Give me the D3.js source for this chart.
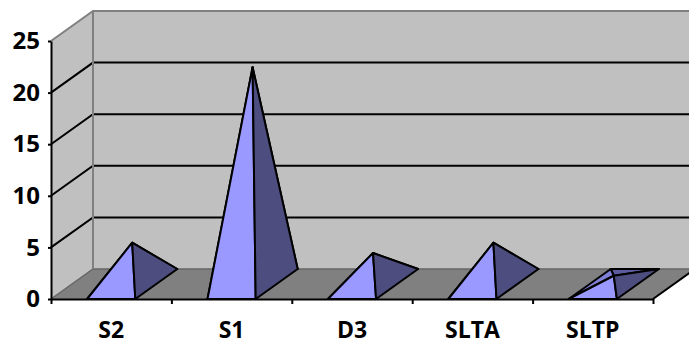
<!DOCTYPE html>
<html>
<head>
<meta charset="utf-8">
<script src="https://cdn.jsdelivr.net/npm/d3@7"></script>
<style>
  html, body { margin: 0; padding: 0; background: #fff; overflow: hidden; }
  svg { display: block; }
  .axis text { font-family: "Open Sans", "Noto Sans", sans-serif; font-weight: bold; fill: #000; }
</style>
</head>
<body>
<div id="chart"></div>
<script>
const categories = ["S2", "S1", "D3", "SLTA", "SLTP"];
const values = [4, 21, 3, 4, 0.8];
const yTicks = [0, 5, 10, 15, 20, 25];
const gridTicks = [5, 10, 15, 20];

const width = 689, height = 345;
const left = 51, right = 653, bottom = 299, top3d = 41;
const depthX = 42, depthY = -30;

const svg = d3.select("#chart")
    .append("svg")
    .attr("width", width)
    .attr("height", height);

const x = d3.scaleBand()
    .domain(categories)
    .range([left, right])
    .paddingInner(0.6)
    .paddingOuter(0.3);

const y = d3.scaleLinear()
    .domain([0, 25])
    .range([bottom, top3d]);

// tick marks sit between the categories, not under them
const xEdges = d3.scaleLinear()
    .domain([0, categories.length])
    .range([left, right]);

const pts = p => p.map(d => d.join(",")).join(" ");
const line3d = d3.line();

// Walls and floor
svg.append("polygon")
    .attr("points", pts([[left + depthX, y(0) + depthY], [width + 10, y(0) + depthY], [width + 10, y(25) + depthY], [left + depthX, y(25) + depthY]]))
    .attr("fill", "#c0c0c0");
svg.append("polygon")
    .attr("points", pts([[left, y(0)], [left + depthX, y(0) + depthY], [left + depthX, y(25) + depthY], [left, y(25)]]))
    .attr("fill", "#c0c0c0");
svg.append("polygon")
    .attr("points", pts([[left, y(0)], [right, y(0)], [right + depthX, y(0) + depthY], [left + depthX, y(0) + depthY]]))
    .attr("fill", "#808080");

// Gridlines
gridTicks.forEach(t => {
    svg.append("path")
        .attr("d", line3d([[left, y(t)], [left + depthX, y(t) + depthY], [width + 10, y(t) + depthY]]))
        .attr("fill", "none")
        .attr("stroke", "#000")
        .attr("stroke-width", 2);
});

// Wall edges
svg.append("path")
    .attr("d", line3d([[left, y(25)], [left + depthX, y(25) + depthY], [width + 10, y(25) + depthY]]))
    .attr("fill", "none").attr("stroke", "#808080").attr("stroke-width", 2);
svg.append("path")
    .attr("d", line3d([[left, y(0)], [left + depthX, y(0) + depthY], [width + 10, y(0) + depthY]]))
    .attr("fill", "none").attr("stroke", "#666").attr("stroke-width", 1.5);
svg.append("path")
    .attr("d", line3d([[left + depthX, y(25) + depthY], [left + depthX, y(0) + depthY]]))
    .attr("fill", "none").attr("stroke", "#808080").attr("stroke-width", 2);
svg.append("path")
    .attr("d", line3d([[right, y(0)], [right + depthX, y(0) + depthY]]))
    .attr("fill", "none").attr("stroke", "#000").attr("stroke-width", 2);

// Pyramids
const faces = [
    { name: "back", fill: "#5c5c9c", corners: (bl, br) => [bl, br] },
    { name: "left", fill: "#7f7fd6", corners: (bl, br, fl) => [fl, bl] },
    { name: "front", fill: "#9999ff", corners: (bl, br, fl, fr) => [fl, fr] },
    { name: "right", fill: "#4d4d80", corners: (bl, br, fl, fr) => [fr, br] }
];

categories.forEach((c, i) => {
    const x0 = x(c), x1 = x(c) + x.bandwidth();
    const fl = [x0, y(0)], fr = [x1, y(0)];
    const bl = [x0 + depthX, y(0) + depthY], br = [x1 + depthX, y(0) + depthY];
    const apex = [(x0 + x1 + depthX) / 2, y(values[i]) + depthY / 2];

    const g = svg.append("g").attr("class", "pyramid");
    faces.forEach(f => {
        g.append("polygon")
            .attr("points", pts([...f.corners(bl, br, fl, fr), apex]))
            .attr("fill", f.fill)
            .attr("stroke", "#000")
            .attr("stroke-width", 2)
            .attr("stroke-linejoin", "round");
    });
});

// Axes
const yAxis = svg.append("g")
    .attr("class", "axis")
    .attr("transform", `translate(${left},0)`)
    .call(d3.axisLeft(y).tickValues(yTicks).tickSize(3).tickPadding(8).tickSizeOuter(0));
yAxis.selectAll("text").style("font-size", "24px");
yAxis.selectAll(".domain, line").attr("stroke", "#000").attr("stroke-width", 2);

const xTickAxis = svg.append("g")
    .attr("transform", `translate(0,${bottom})`)
    .call(d3.axisBottom(xEdges).tickValues(d3.range(categories.length + 1)).tickSize(5).tickFormat("").tickSizeOuter(0));
xTickAxis.selectAll(".domain, line").attr("stroke", "#000").attr("stroke-width", 2);

const xAxis = svg.append("g")
    .attr("class", "axis")
    .attr("transform", `translate(0,${bottom})`)
    .call(d3.axisBottom(x).tickSize(0).tickPadding(23));
xAxis.select(".domain").remove();
xAxis.selectAll("text").style("font-size", "23px");
</script>
</body>
</html>
